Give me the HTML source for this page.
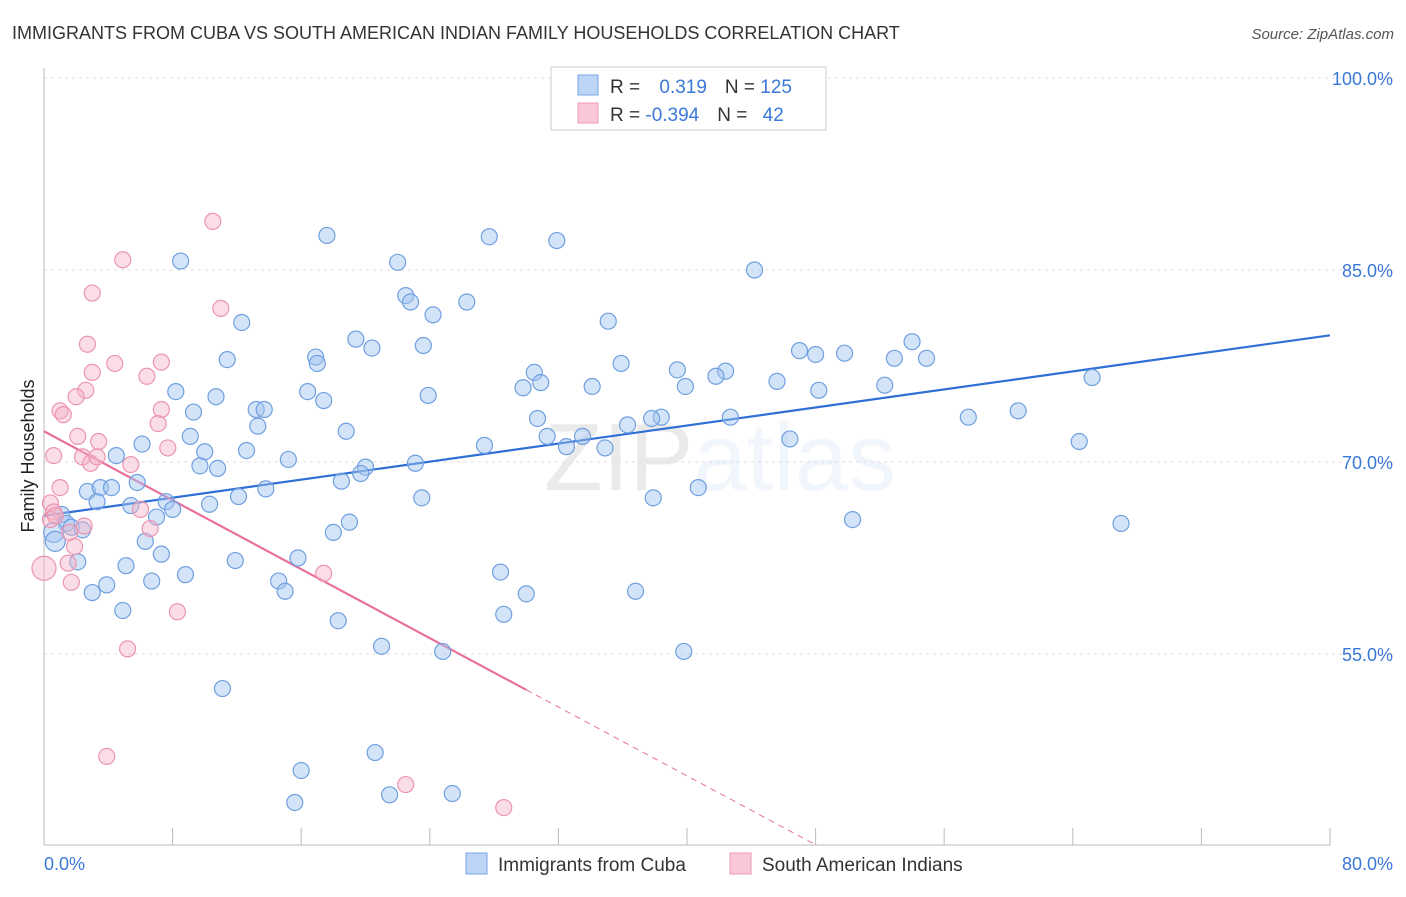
<!DOCTYPE html>
<html><head><meta charset="utf-8"><style>
body{margin:0;background:#fff;font-family:"Liberation Sans",sans-serif;}
svg text{font-family:"Liberation Sans",sans-serif;}
</style></head><body>
<svg id="chart" width="1406" height="892" viewBox="0 0 1406 892">
<text x="12" y="39" font-size="18" fill="#333">IMMIGRANTS FROM CUBA VS SOUTH AMERICAN INDIAN FAMILY HOUSEHOLDS CORRELATION CHART</text>
<text x="1394" y="39" font-size="15" fill="#555" font-style="italic" text-anchor="end">Source: ZipAtlas.com</text>
<text x="720" y="490" font-size="96" text-anchor="middle" fill="#000" opacity="0.08" font-family="Liberation Serif">ZIP<tspan fill="#3a78d8" opacity="0.9" font-family="Liberation Sans">atlas</tspan></text>
<text transform="translate(34,456) rotate(-90)" font-size="18" fill="#222" text-anchor="middle">Family Households</text>
<g id="grid"></g><g id="ticks"></g>
<g id="lines"></g>
<g id="pts"></g>
<g>
<rect x="551" y="67" width="275" height="63" fill="#fff" stroke="#ccc"/>
<rect x="578" y="75" width="20" height="20" fill="#bcd4f5" stroke="#7aa6e6"/>
<rect x="578" y="103" width="20" height="20" fill="#f8c8d7" stroke="#ee9ab4"/>
<text x="610" y="93" font-size="19" fill="#333">R = <tspan fill="#3a78d8" dx="14">0.319</tspan><tspan dx="18" fill="#333">N = </tspan><tspan fill="#3a78d8">125</tspan></text>
<text x="610" y="121" font-size="19" fill="#333">R = <tspan fill="#3a78d8">-0.394</tspan><tspan dx="18" fill="#333">N = </tspan><tspan fill="#3a78d8" dx="10">42</tspan></text>
</g>
<g>
<rect x="466" y="853" width="21" height="21" fill="#bcd4f5" stroke="#7aa6e6"/>
<text x="498" y="871" font-size="19" fill="#333">Immigrants from Cuba</text>
<rect x="730" y="853" width="21" height="21" fill="#f8c8d7" stroke="#ee9ab4"/>
<text x="762" y="871" font-size="19" fill="#333">South American Indians</text>
</g>
<text x="44" y="870" font-size="18" fill="#3a78d8">0.0%</text>
<text x="1393" y="870" font-size="18" fill="#3a78d8" text-anchor="end">80.0%</text>
</svg>
<script>
const yTicks=[100,85,70,55];
const blueX=[8.5,17.6,27.7,31.9,44.2,22.0,22.5,22.8,26.3,24.2,12.3,35.1,19.4,20.4,23.6,11.4,16.9,17.0,35.9,47.0,48.0,49.8,54.0,52.9,54.9,39.4,42.4,41.8,30.5,30.9,29.8,34.1,39.9,45.6,48.2,52.3,65.2,8.2,10.7,16.4,17.4,23.9,9.3,13.2,13.7,13.3,18.8,30.7,38.4,42.7,57.5,60.6,64.4,36.3,31.3,33.5,27.4,32.5,34.9,46.4,9.1,6.1,4.5,10.0,12.6,15.2,9.7,10.8,20.0,19.7,18.5,23.1,37.8,2.7,3.5,4.2,5.8,3.3,5.4,7.6,8.0,7.0,10.3,12.1,13.8,23.5,37.9,40.7,50.3,67.0,1.1,1.4,1.7,2.4,0.6,0.7,6.3,7.3,18.0,19.0,2.1,5.1,8.8,11.9,15.8,6.7,14.6,28.4,3.9,3.0,15.0,30.0,36.8,4.9,18.3,28.6,21.0,24.8,39.8,11.1,20.6,16.0,15.6,21.5,25.4];
const blueY=[85.7,87.7,87.6,87.3,85.0,85.6,83.0,82.5,82.5,81.5,80.9,81.0,79.6,78.9,79.1,78.0,78.2,77.7,77.7,78.7,78.4,78.5,79.4,78.1,78.1,77.2,77.1,76.7,77.0,76.2,75.8,75.9,75.9,76.3,75.6,76.0,76.6,75.5,75.1,75.5,74.8,75.2,73.9,74.1,74.1,72.8,72.4,73.4,73.5,73.5,73.5,74.0,71.6,72.9,72.0,72.0,71.3,71.2,71.1,71.8,72.0,71.4,70.5,70.8,70.9,70.2,69.7,69.5,69.6,69.1,68.5,69.9,73.4,67.7,68.0,68.0,68.4,66.9,66.6,66.9,66.3,65.7,66.7,67.3,67.9,67.2,67.2,68.0,65.5,65.2,65.9,65.2,64.9,64.7,64.5,63.8,63.8,62.8,64.5,65.3,62.2,61.9,61.2,62.3,62.5,60.7,60.7,61.4,60.4,59.8,59.9,59.7,59.9,58.4,57.6,58.1,55.6,55.2,55.2,52.3,47.3,45.9,43.4,44.0,44.1];
const pinkX=[10.5,4.9,3.0,11.0,2.7,4.4,7.3,6.4,3.0,2.6,2.0,7.3,1.0,1.2,7.1,2.1,3.4,0.6,7.7,2.4,2.9,3.3,5.4,1.0,0.4,0.6,0.4,6.0,2.5,1.6,6.6,1.9,0,1.5,1.7,8.3,17.4,5.2,3.9,22.5,28.6,0.7];
const pinkY=[88.8,85.8,83.2,82.0,79.2,77.7,77.8,76.7,77.0,75.6,75.1,74.1,74.0,73.7,73.0,72.0,71.6,70.5,71.1,70.4,69.9,70.4,69.8,68.0,66.8,66.1,65.5,66.3,65.0,64.5,64.8,63.4,61.7,62.1,60.6,58.3,61.3,55.4,47.0,44.8,43.0,65.8];
const blueTrend=[65.8,79.9];
const pinkTrend=[72.4,52.2,40.1];const pinkBreak=[30.0,48.0];
const X0=44,X1=1330;
const xs=v=>X0+(v/80)*(X1-X0);
const ys=v=>462-(v-70)*12.8;
const NS='http://www.w3.org/2000/svg';
function mk(t,a,p){const e=document.createElementNS(NS,t);for(const k in a)e.setAttribute(k,a[k]);p.appendChild(e);return e;}
const grid=document.getElementById('grid');
yTicks.forEach(t=>{
 const l=mk('line',{x1:X0,x2:1393,y1:ys(t),y2:ys(t),stroke:'#ddd','stroke-dasharray':'3,4'},grid);
 
 
 const tx=mk('text',{x:1393,y:ys(t)+7,'font-size':18,fill:'#3a78d8','text-anchor':'end'},grid);
 tx.textContent=t.toFixed(1)+'%';
 
 
});
const tk=document.getElementById('ticks');
const ax=mk('line',{x1:X0,x2:X1,y1:845,y2:845,stroke:'#bbb'},tk);


const ay=mk('line',{x1:X0,x2:X0,y1:68,y2:845,stroke:'#bbb'},tk);


for(let i=0;i<=10;i++){const v=i*8;const l=mk('line',{x1:xs(v),x2:xs(v),y1:828,y2:845,stroke:'#bbb'},tk);
 
 }
const pts=document.getElementById('pts');
blueX.forEach((x,i)=>{const c=mk('circle',{cx:xs(x),cy:ys(blueY[i]),r:x<1?10:8,fill:'rgba(160,195,240,0.45)',stroke:'#6f9fe0','stroke-width':1.2},pts);
 
 });
pinkX.forEach((x,i)=>{const c=mk('circle',{cx:xs(x),cy:ys(pinkY[i]),r:x===0?12:8,fill:'rgba(245,180,200,0.45)',stroke:'#ec95b0','stroke-width':1.2},pts);
 
 });
const ln=document.getElementById('lines');
const bl=mk('line',{x1:xs(0),y1:ys(blueTrend[0]),x2:xs(80),y2:ys(blueTrend[1]),stroke:'#2f6fd6','stroke-width':2.2},ln);


const pl=mk('line',{x1:xs(0),y1:ys(pinkTrend[0]),x2:xs(pinkBreak[0]),y2:ys(pinkTrend[1]),stroke:'#e8719a','stroke-width':2.2},ln);


const pd=mk('line',{x1:xs(pinkBreak[0]),y1:ys(pinkTrend[1]),x2:xs(pinkBreak[1]),y2:ys(pinkTrend[2]),stroke:'#e8719a','stroke-width':1,'stroke-dasharray':'6,5'},ln);


</script>
</body></html>
